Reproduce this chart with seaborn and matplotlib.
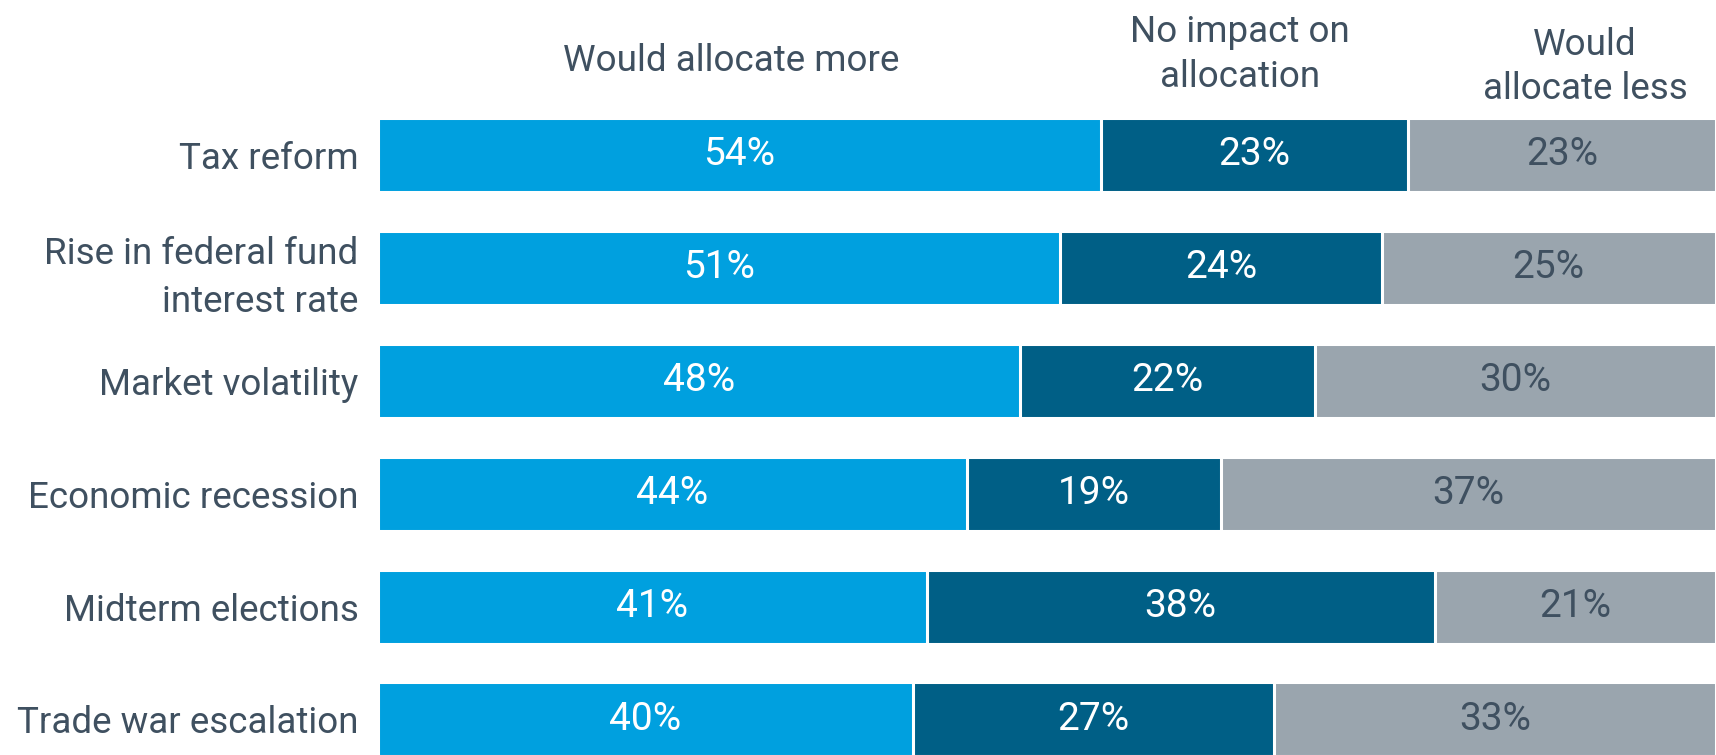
import matplotlib
matplotlib.use("Agg")
import matplotlib.pyplot as plt
import seaborn as sns
import pandas as pd
import numpy as np

categories = [
    "Tax reform",
    "Rise in federal fund\ninterest rate",
    "Market volatility",
    "Economic recession",
    "Midterm elections",
    "Trade war escalation",
]
more = [54, 51, 48, 44, 41, 40]
no_impact = [23, 24, 22, 19, 38, 27]
less = [23, 25, 30, 37, 21, 33]
series_names = ["Would allocate more", "No impact on\nallocation", "Would\nallocate less"]

colors = ["#00A0DF", "#005F86", "#9AA5AE"]
label_colors = ["white", "white", "#3F5060"]
text_color = "#3F5060"

sns.set_theme(style="white")
plt.rcParams["font.family"] = ["Roboto", "DejaVu Sans"]

df = pd.DataFrame({
    "category": categories,
    "more": more,
    "no_impact": no_impact,
    "less": less,
})
df["cum1"] = df["more"]
df["cum2"] = df["more"] + df["no_impact"]
df["cum3"] = df["cum2"] + df["less"]

fig = plt.figure(figsize=(17.16, 7.55), dpi=100)
left = 378 / 1716
ax = fig.add_axes([left, 0, 1 - left, 1])

# stacked segments drawn back to front from cumulative totals
for col, color in zip(["cum3", "cum2", "cum1"], colors[::-1]):
    sns.barplot(data=df, x=col, y="category", order=categories, color=color,
                orient="h", width=0.655, edgecolor="white", linewidth=2.2,
                saturation=1, ax=ax)

ax.set_xlim(0, 100)
ax.set_ylim(5.315, -1.372)
ax.set_xlabel("")
ax.set_ylabel("")
ax.set_xticks([])
sns.despine(ax=ax, left=True, bottom=True)
ax.tick_params(axis="y", length=0, pad=14, labelsize=26.5, labelcolor=text_color)
for lab in ax.get_yticklabels():
    lab.set_horizontalalignment("right")
    lab.set_multialignment("right")
    lab.set_linespacing(1.45)

# value labels centered in each segment
for i in range(len(categories)):
    starts = [0, more[i], more[i] + no_impact[i]]
    vals = [more[i], no_impact[i], less[i]]
    for s, v, c in zip(starts, vals, label_colors):
        ax.text(s + v / 2, i, f"{v}%", ha="center", va="center",
                fontsize=28, color=c)

# column headers
header_x = [26.4, 64.4, 90.2]
header_y = [-0.83, -0.89, -0.78]
for name, hx, hy in zip(series_names, header_x, header_y):
    ax.text(hx, hy, name, ha="center", va="center", fontsize=26.5,
            color=text_color, linespacing=1.3)

fig.savefig("out.png", dpi=100)
